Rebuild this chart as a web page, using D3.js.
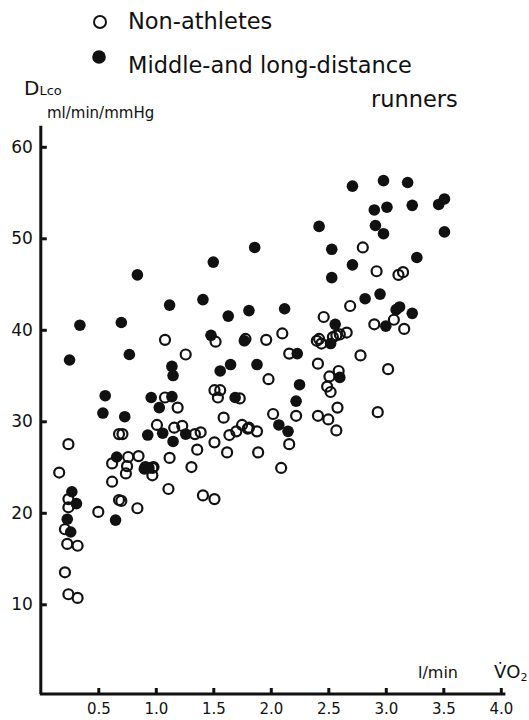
<!DOCTYPE html>
<html>
<head>
<script src="https://d3js.org/d3.v7.min.js"></script>
<style>
  body { margin: 0; background: #fff; }
  text { font-family: "DejaVu Sans", sans-serif; fill: #111; }
</style>
</head>
<body>
<svg width="529" height="720"></svg>
<script>
// VO2 (l/min) and DLco (ml/min/mmHg)
const runnersVO2 = [0.25, 0.34, 0.27, 0.31, 0.23, 0.26, 0.56, 0.54, 0.65, 0.66, 0.70, 0.84, 0.77,
  1.12, 1.41, 1.50, 1.63, 1.81, 1.48, 1.77, 1.14, 1.15, 1.56, 1.65, 0.96, 1.14, 1.03, 1.69,
  0.73, 0.93, 1.06, 1.15, 1.26, 0.90, 0.94, 2.71, 2.98, 3.19, 2.90, 3.01, 3.23, 3.46, 3.51,
  3.51, 2.42, 2.91, 2.98, 1.86, 2.53, 3.27, 2.71, 2.53, 2.12, 2.82, 2.95, 3.12, 3.09, 3.23,
  2.56, 3.00, 2.52, 2.23, 1.88, 2.25, 2.60, 2.22, 2.07, 2.15];
const runnersDL = [36.7, 40.5, 22.3, 21.0, 19.3, 17.9, 32.8, 30.9, 19.2, 26.1, 40.8, 46.0, 37.3,
  42.7, 43.3, 47.4, 41.5, 42.1, 39.4, 38.8, 36.0, 35.0, 35.5, 36.2, 32.6, 32.7, 31.5, 32.6,
  30.5, 28.5, 28.7, 27.8, 28.6, 24.8, 24.9, 55.7, 56.3, 56.1, 53.1, 53.4, 53.6, 53.7, 54.3,
  50.7, 51.3, 51.4, 50.5, 49.0, 48.8, 47.9, 47.1, 45.7, 42.3, 43.4, 43.9, 42.5, 42.2, 41.8,
  40.6, 40.4, 38.5, 37.4, 36.2, 34.0, 34.8, 32.2, 29.6, 28.9];

const nonVO2 = [0.24, 0.16, 0.24, 0.24, 0.21, 0.23, 0.32, 0.21, 0.24, 0.32, 0.50, 0.62, 0.62,
  0.68, 0.68, 1.08, 1.26, 1.52, 1.08, 1.19, 1.51, 1.56, 1.54, 1.59, 1.01, 1.16, 1.23, 1.34,
  1.39, 1.51, 1.36, 1.62, 1.64, 1.70, 1.75, 1.80, 0.71, 0.76, 0.85, 0.91, 0.98, 1.12, 1.31,
  0.75, 0.74, 0.97, 0.97, 1.11, 0.70, 0.84, 1.41, 1.51, 2.80, 2.92, 3.11, 3.15, 2.69, 2.46,
  2.10, 2.90, 3.07, 3.16, 2.66, 2.57, 2.54, 2.42, 1.78, 1.96, 2.40, 2.44, 2.60, 2.16, 2.41,
  2.78, 3.02, 1.98, 2.59, 2.51, 2.49, 2.52, 1.73, 2.02, 2.22, 2.41, 2.50, 2.58, 2.57, 2.93,
  1.81, 1.88, 2.16, 1.89, 2.09];
const nonDL = [27.5, 24.4, 21.5, 20.6, 18.2, 16.6, 16.4, 13.5, 11.1, 10.7, 20.1, 25.4, 23.4,
  21.4, 28.6, 38.9, 37.3, 38.7, 32.6, 31.5, 33.4, 33.4, 32.6, 30.4, 29.6, 29.3, 29.5, 28.6,
  28.8, 27.7, 26.9, 26.6, 28.5, 28.9, 29.6, 29.2, 28.6, 26.1, 26.2, 25.0, 25.0, 26.0, 25.0,
  25.1, 24.3, 24.9, 24.1, 22.6, 21.3, 20.5, 21.9, 21.5, 49.0, 46.4, 46.0, 46.3, 42.6, 41.4,
  39.6, 40.6, 41.1, 40.1, 39.7, 39.4, 39.2, 39.0, 39.0, 38.9, 38.8, 38.5, 39.5, 37.4, 36.3,
  37.2, 35.7, 34.6, 35.5, 34.9, 33.8, 33.2, 32.5, 30.8, 30.6, 30.6, 30.2, 31.5, 29.0, 31.0,
  29.3, 28.9, 27.5, 26.6, 24.9];

const xTicks = [0.5, 1.0, 1.5, 2.0, 2.5, 3.0, 3.5, 4.0];
const yTicks = [10, 20, 30, 40, 50, 60];

const svg = d3.select("svg");
const x = d3.scaleLinear().domain([0, 4]).range([40.8, 500.8]);
const y = d3.scaleLinear().domain([0, 60]).range([695.8, 146.8]);

// axis lines
svg.append("line")
  .attr("x1", x(0)).attr("x2", x(0))
  .attr("y1", y(0.2)).attr("y2", y(62.3))
  .attr("stroke", "#111").attr("stroke-width", 3);
svg.append("line")
  .attr("x1", x(0) - 1).attr("x2", x(4.04))
  .attr("y1", y(0.2)).attr("y2", y(0.2))
  .attr("stroke", "#111").attr("stroke-width", 3);

// y axis ticks (inside)
const yAxis = d3.axisLeft(y).tickValues(yTicks).tickFormat(d3.format("d"))
  .tickSizeInner(-6).tickSizeOuter(0).tickPadding(8);
const gy = svg.append("g").attr("transform", `translate(${x(0)},0)`).call(yAxis);
gy.select(".domain").remove();
gy.selectAll(".tick line").attr("stroke", "#111").attr("stroke-width", 3);
gy.selectAll(".tick text").attr("font-size", 17).attr("fill", "#111")
  .style("font-family", "DejaVu Sans, sans-serif");

// x axis ticks (inside)
const xAxis = d3.axisBottom(x).tickValues(xTicks).tickFormat(d3.format(".1f"))
  .tickSizeInner(-6).tickSizeOuter(0).tickPadding(9);
const gx = svg.append("g").attr("transform", `translate(0,${y(0.2)})`).call(xAxis);
gx.select(".domain").remove();
gx.selectAll(".tick line").attr("stroke", "#111").attr("stroke-width", 3);
gx.selectAll(".tick text").attr("font-size", 15).attr("fill", "#111")
  .style("font-family", "DejaVu Sans, sans-serif");

// points
const nonPts = nonVO2.map((v, i) => ({ v: v, d: nonDL[i] }));
const runPts = runnersVO2.map((v, i) => ({ v: v, d: runnersDL[i] }));

svg.append("g").selectAll("circle").data(nonPts).enter().append("circle")
  .attr("cx", d => x(d.v)).attr("cy", d => y(d.d)).attr("r", 5)
  .attr("fill", "none").attr("stroke", "#111").attr("stroke-width", 2.2);

svg.append("g").selectAll("circle").data(runPts).enter().append("circle")
  .attr("cx", d => x(d.v)).attr("cy", d => y(d.d)).attr("r", 5.8)
  .attr("fill", "#111");

// legend
svg.append("circle").attr("cx", 100).attr("cy", 22).attr("r", 6)
  .attr("fill", "none").attr("stroke", "#111").attr("stroke-width", 2);
svg.append("circle").attr("cx", 99).attr("cy", 57).attr("r", 6.8).attr("fill", "#111");
svg.append("text").attr("x", 128).attr("y", 29).attr("font-size", 22.5).text("Non-athletes");
svg.append("text").attr("x", 128).attr("y", 73).attr("font-size", 22.5).text("Middle-and long-distance");
svg.append("text").attr("x", 371).attr("y", 107).attr("font-size", 22.5).text("runners");

// axis titles
const dl = svg.append("text").attr("x", 24).attr("y", 95);
dl.append("tspan").attr("font-size", 20).text("D");
dl.append("tspan").attr("font-size", 13).text("Lco");
svg.append("text").attr("x", 47).attr("y", 118).attr("font-size", 15).text("ml/min/mmHg");
svg.append("text").attr("x", 418).attr("y", 678).attr("font-size", 16).text("l/min");
const vo = svg.append("text").attr("x", 494).attr("y", 678).attr("font-size", 18);
vo.append("tspan").text("V\u0307O");
vo.append("tspan").attr("font-size", 11).attr("dy", 3).text("2");
</script>
</body>
</html>
